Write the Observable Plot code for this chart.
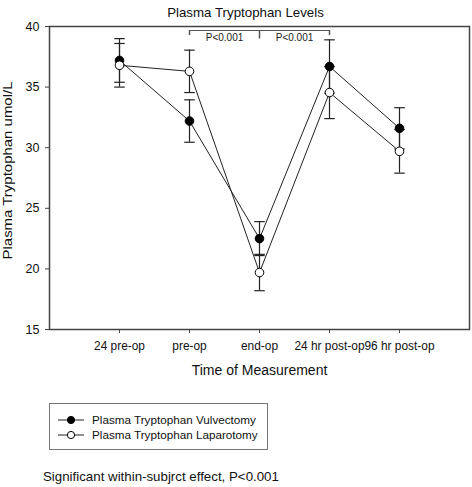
<!DOCTYPE html>
<html><head><meta charset="utf-8">
<script src="https://cdn.jsdelivr.net/npm/d3@7"></script>
<script src="https://cdn.jsdelivr.net/npm/@observablehq/plot@0.6"></script>
<style>
body{margin:0;background:#fff;font-family:"Liberation Sans",Arial,sans-serif;color:#111;}
#wrap{position:relative;width:472px;height:487px;overflow:hidden;}
#chart{position:absolute;left:0;top:0;}
#legend{position:absolute;left:49px;top:403px;width:217px;height:45px;border:1px solid #777;}
.row{position:absolute;left:8px;height:15px;display:flex;align-items:center;font-size:11.7px;white-space:nowrap;}
.row svg{margin-right:8px;}
#caption{position:absolute;left:43px;top:469px;font-size:13.3px;white-space:nowrap;}
</style></head><body><div id="wrap"><div id="chart"></div>
<div id="legend"></div>
<div id="caption"></div></div>
<script>
const timepoints = ["24 pre-op", "pre-op", "end-op", "24 hr post-op", "96 hr post-op"];
const vulvectomy = [37.2, 32.2, 22.5, 36.7, 31.6];
const vulvectomyErr = [1.8, 1.75, 1.4, 2.2, 1.7];
const laparotomy = [36.8, 36.3, 19.7, 34.55, 29.7];
const laparotomyErr = [1.8, 1.75, 1.5, 2.15, 1.8];
const seriesNames = ["Plasma Tryptophan Vulvectomy", "Plasma Tryptophan Laparotomy"];
const yTicks = [15, 20, 25, 30, 35, 40];
const brackets = [
  {from: "pre-op", to: "end-op", label: "P<0.001"},
  {from: "end-op", to: "24 hr post-op", label: "P<0.001"}
];
const bracketLevel = 39.67;
const bracketLabelLevel = 39.05;
const titleText = "Plasma Tryptophan Levels";
const yLabel = "Plasma Tryptophan umol/L";
const xLabel = "Time of Measurement";
const captionText = "Significant within-subjrct effect, P<0.001";

const rows = [];
timepoints.forEach((t, i) => {
  rows.push({i, t, s: 0, value: vulvectomy[i], err: vulvectomyErr[i]});
});
timepoints.forEach((t, i) => {
  rows.push({i, t, s: 1, value: laparotomy[i], err: laparotomyErr[i]});
});
const idx = t => timepoints.indexOf(t);
const bracketRows = brackets.map(b => ({x1: idx(b.from), x2: idx(b.to), label: b.label}));
const endpointCounts = d3.rollup(bracketRows.flatMap(b => [b.x1, b.x2]), v => v.length, d => d);
const bracketEnds = Array.from(endpointCounts, ([x, n]) => ({x, depth: n > 1 ? 0.7 : 0.42}));
const cap = 0.075;

const chart = Plot.plot({
  width: 472, height: 390,
  marginTop: 26, marginLeft: 49, marginRight: 3, marginBottom: 61,
  style: {fontFamily: "Liberation Sans, Arial, sans-serif", color: "#111", background: "white"},
  x: {type: "linear", domain: [-1, 5]},
  y: {domain: [15, 40]},
  marks: [
    Plot.axisX({ticks: d3.range(timepoints.length), tickFormat: i => timepoints[i], tickSize: 4, tickPadding: 8, fontSize: 11.9, label: null, stroke: "#444"}),
    Plot.axisY({ticks: yTicks, tickSize: 4, tickPadding: 6, fontSize: 12.5, label: null, stroke: "#444"}),
    Plot.ruleX(rows, {x: "i", y1: d => d.value - d.err, y2: d => d.value + d.err, stroke: "#222", strokeWidth: 1.2}),
    Plot.link(rows, {x1: d => d.i - cap, x2: d => d.i + cap, y1: d => d.value + d.err, y2: d => d.value + d.err, stroke: "#222", strokeWidth: 1.2}),
    Plot.link(rows, {x1: d => d.i - cap, x2: d => d.i + cap, y1: d => d.value - d.err, y2: d => d.value - d.err, stroke: "#222", strokeWidth: 1.2}),
    Plot.line(rows, {x: "i", y: "value", z: "s", stroke: "#222", strokeWidth: 1}),
    Plot.dot(rows, {x: "i", y: "value", r: 4.3, fill: d => d.s === 0 ? "#000" : "#fff", stroke: "#000", strokeWidth: 1}),
    Plot.link(bracketRows, {x1: "x1", x2: "x2", y1: bracketLevel, y2: bracketLevel, stroke: "#555", strokeWidth: 1.2}),
    Plot.ruleX(bracketEnds, {x: "x", y1: bracketLevel, y2: d => bracketLevel - d.depth, stroke: "#555", strokeWidth: 1.5}),
    Plot.text(bracketRows, {x: d => (d.x1 + d.x2) / 2, y: bracketLabelLevel, text: "label", fontSize: 10, fill: "#222"}),
    Plot.frame({stroke: "#444", strokeWidth: 1.5}),
    Plot.text([titleText], {frameAnchor: "top", textAnchor: "middle", dx: -14, dy: -19, fontSize: 13.3, fill: "#111"}),
    Plot.text([xLabel], {frameAnchor: "bottom", textAnchor: "middle", dy: 45, fontSize: 14, fill: "#111"}),
    Plot.text([yLabel], {frameAnchor: "left", textAnchor: "middle", rotate: -90, dx: -41.5, dy: -7.5, fontSize: 13.5, fill: "#111"})
  ]
});
// stretch the rotated axis title along its length, as in the reference
chart.querySelectorAll("text").forEach(t => {
  if (t.textContent === yLabel) {
    t.setAttribute("textLength", "178");
    t.setAttribute("lengthAdjust", "spacingAndGlyphs");
  }
});
document.getElementById("chart").appendChild(chart);

const legend = document.getElementById("legend");
seriesNames.forEach((name, k) => {
  const row = document.createElement("div");
  row.className = "row";
  row.style.top = (8 + k * 15) + "px";
  row.innerHTML = `<svg width="26" height="10"><line x1="0" y1="5" x2="26" y2="5" stroke="#222" stroke-width="1"/><circle cx="13" cy="5" r="3.6" fill="${k === 0 ? "#000" : "#fff"}" stroke="#000"/></svg><span>${name}</span>`;
  legend.appendChild(row);
});
document.getElementById("caption").textContent = captionText;
</script></body></html>
